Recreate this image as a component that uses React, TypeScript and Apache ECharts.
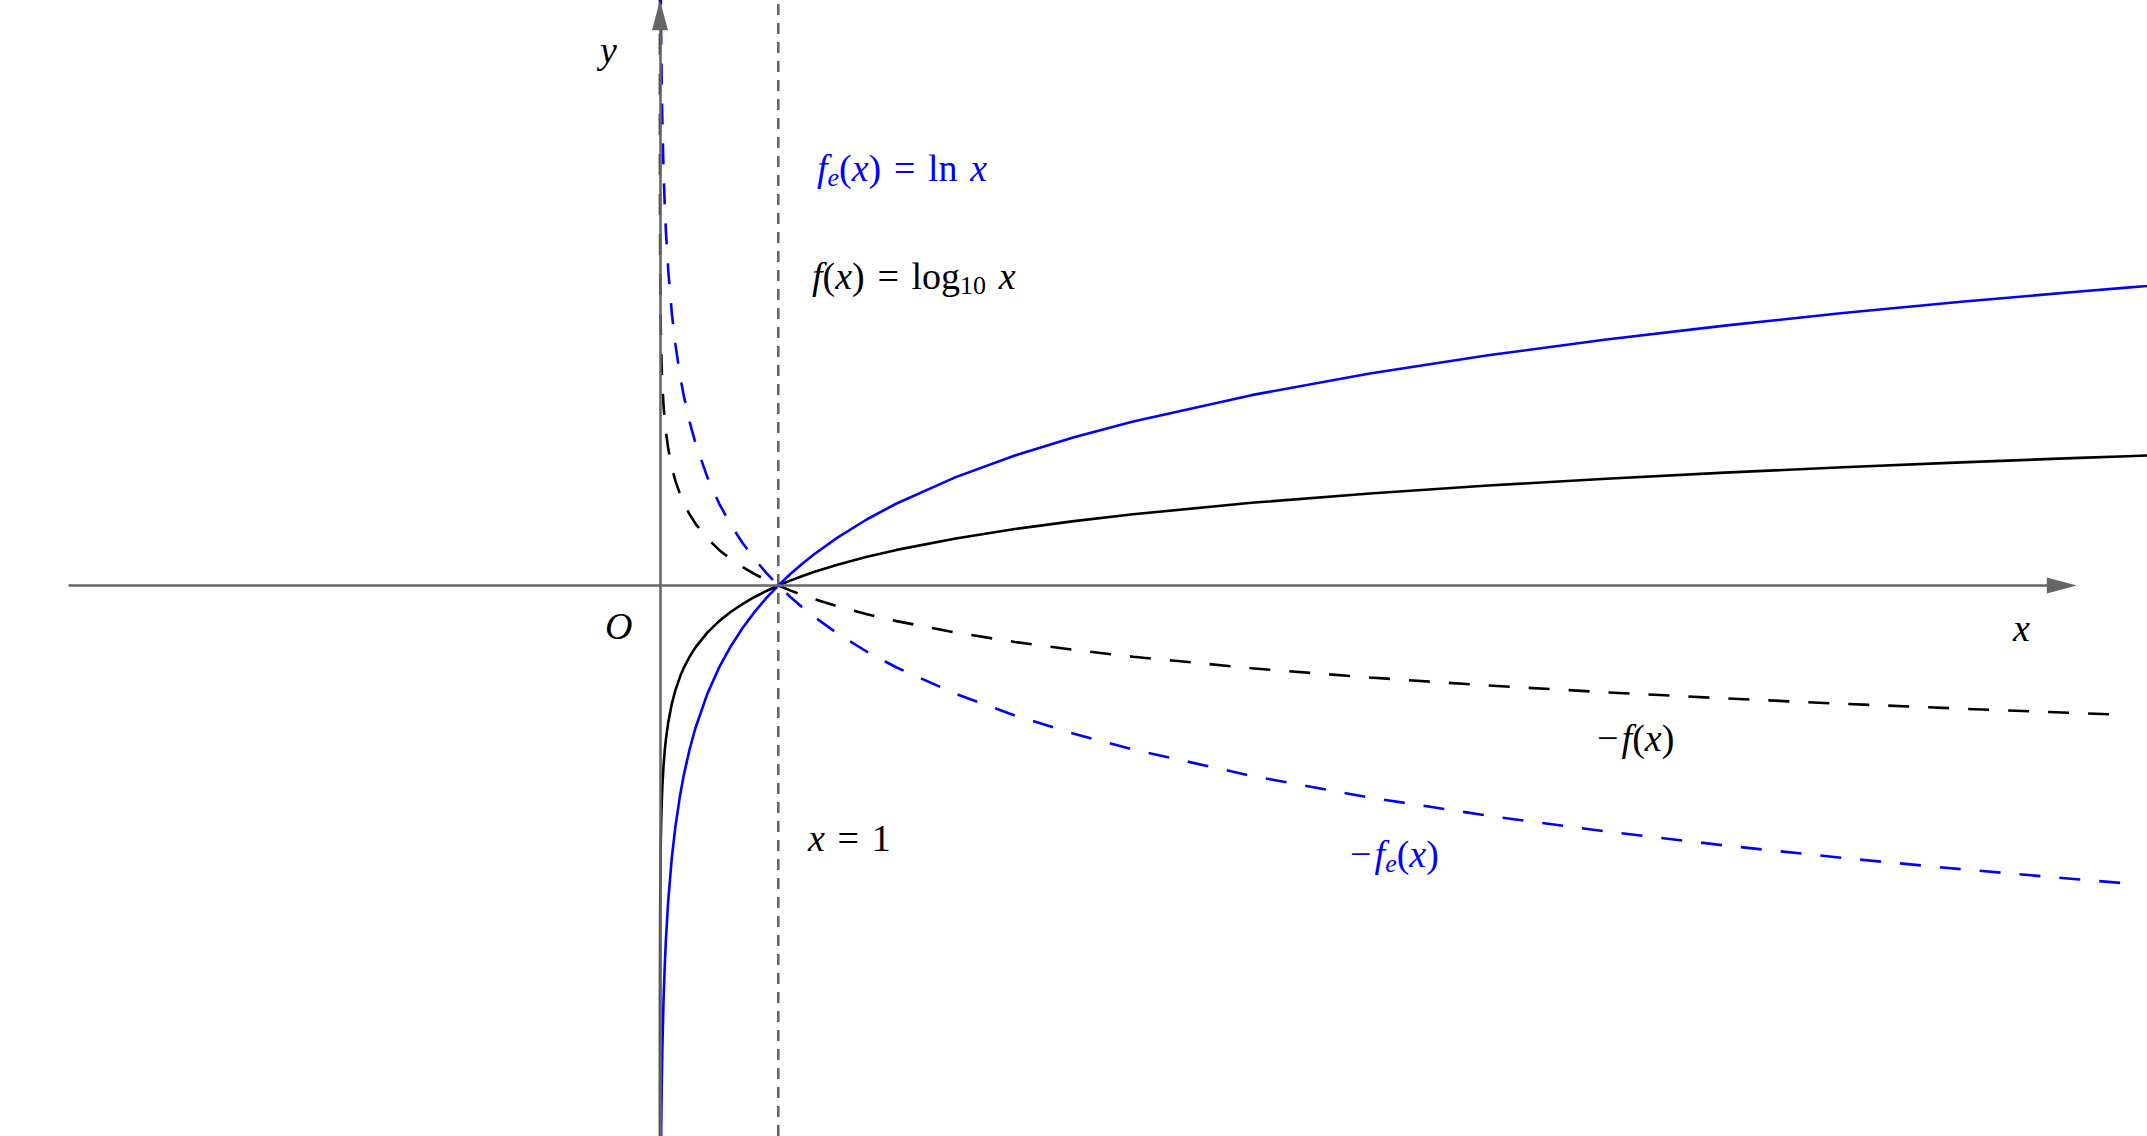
import React, { useEffect, useRef } from "react";
import * as echarts from "echarts";

// Sample abscissae (x > 0)
const xs = [0.00001, 0.0001, 0.0005, 0.001, 0.002, 0.003, 0.005, 0.007, 0.01, 0.015, 0.02, 0.03, 0.04, 0.05, 0.07, 0.1, 0.13, 0.17, 0.2, 0.25, 0.3, 0.4, 0.5, 0.6, 0.7, 0.8, 0.9, 1, 1.1, 1.2, 1.3, 1.5, 1.75, 2, 2.5, 3, 3.5, 4, 5, 6, 7, 8, 9, 10, 11, 12, 12.4, 13];

// f_e(x) = ln x
const lnY = [-11.513, -9.21, -7.601, -6.908, -6.215, -5.809, -5.298, -4.962, -4.605, -4.2, -3.912, -3.507, -3.219, -2.996, -2.659, -2.303, -2.04, -1.772, -1.609, -1.386, -1.204, -0.916, -0.693, -0.511, -0.357, -0.223, -0.105, 0, 0.095, 0.182, 0.262, 0.405, 0.56, 0.693, 0.916, 1.099, 1.253, 1.386, 1.609, 1.792, 1.946, 2.079, 2.197, 2.303, 2.398, 2.485, 2.518, 2.565];

// f(x) = log10 x
const log10Y = [-5, -4, -3.301, -3, -2.699, -2.523, -2.301, -2.155, -2, -1.824, -1.699, -1.523, -1.398, -1.301, -1.155, -1, -0.886, -0.77, -0.699, -0.602, -0.523, -0.398, -0.301, -0.222, -0.155, -0.097, -0.046, 0, 0.041, 0.079, 0.114, 0.176, 0.243, 0.301, 0.398, 0.477, 0.544, 0.602, 0.699, 0.778, 0.845, 0.903, 0.954, 1, 1.041, 1.079, 1.093, 1.114];

// -f_e(x) (drawn up to x = 12.4)
const negLnY = [11.513, 9.21, 7.601, 6.908, 6.215, 5.809, 5.298, 4.962, 4.605, 4.2, 3.912, 3.507, 3.219, 2.996, 2.659, 2.303, 2.04, 1.772, 1.609, 1.386, 1.204, 0.916, 0.693, 0.511, 0.357, 0.223, 0.105, 0, -0.095, -0.182, -0.262, -0.405, -0.56, -0.693, -0.916, -1.099, -1.253, -1.386, -1.609, -1.792, -1.946, -2.079, -2.197, -2.303, -2.398, -2.485, -2.518];

// -f(x) (drawn up to x = 12.4)
const negLog10Y = [5, 4, 3.301, 3, 2.699, 2.523, 2.301, 2.155, 2, 1.824, 1.699, 1.523, 1.398, 1.301, 1.155, 1, 0.886, 0.77, 0.699, 0.602, 0.523, 0.398, 0.301, 0.222, 0.155, 0.097, 0.046, 0, -0.041, -0.079, -0.114, -0.176, -0.243, -0.301, -0.398, -0.477, -0.544, -0.602, -0.699, -0.778, -0.845, -0.903, -0.954, -1, -1.041, -1.079, -1.093];

// Viewport of the plane
const X_MIN = -5.579;
const X_MAX = 12.57;
const Y_MIN = -4.653;
const Y_MAX = 4.949;

// Axis extents
const xAxisFrom = -5;
const xAxisTo = 11.85;
const yAxisTo = 4.82;
const asymptoteX = 1;

const W = 2147;
const H = 1136;
const FONT = "'Liberation Serif', 'DejaVu Serif', serif";
const BLUE = "#0000ff";
const BLACK = "#000000";
const GRAY = "#666666";
const SP = "\u2004"; // three-per-em space, math-like spacing around "="
const HS = "\u200A"; // hair space

function pairs(vals: number[]) {
  return vals.map((v, i) => [xs[i], v]);
}

function rich(color: string) {
  return {
    i: { fill: color, fontFamily: FONT, fontStyle: "italic", fontSize: 38, lineHeight: 44, verticalAlign: "middle" },
    n: { fill: color, fontFamily: FONT, fontSize: 38, lineHeight: 44, verticalAlign: "middle" },
    s: { fill: color, fontFamily: FONT, fontStyle: "italic", fontSize: 26, lineHeight: 22, verticalAlign: "bottom" },
    sn: { fill: color, fontFamily: FONT, fontSize: 26, lineHeight: 22, verticalAlign: "bottom" },
  };
}

function label(x: number, y: number, text: string, color: string) {
  return {
    type: "text",
    x,
    y,
    silent: true,
    style: {
      text,
      rich: rich(color),
      fill: color,
      fontFamily: FONT,
      fontSize: 38,
      align: "left",
      verticalAlign: "middle",
    },
  };
}

export default function App() {
  const ref = useRef<HTMLDivElement>(null);

  useEffect(() => {
    if (!ref.current) return;
    const chart = echarts.init(ref.current, undefined, { renderer: "svg" });
    const curve = (name: string, vals: number[], color: string, dashed: boolean) => ({
      name,
      type: "line",
      data: pairs(vals),
      showSymbol: false,
      symbol: "none",
      smooth: false,
      clip: true,
      lineStyle: {
        color,
        width: 2.6,
        type: dashed ? [21, 19] : "solid",
      },
      z: 3,
    });

    chart.setOption({
      animation: false,
      backgroundColor: "#ffffff",
      grid: { left: 0, right: 0, top: 0, bottom: 0, containLabel: false },
      xAxis: { type: "value", min: X_MIN, max: X_MAX, show: false },
      yAxis: { type: "value", min: Y_MIN, max: Y_MAX, show: false },
      series: [
        {
          name: "x = 1",
          type: "line",
          data: [
            [asymptoteX, Y_MIN],
            [asymptoteX, Y_MAX],
          ],
          showSymbol: false,
          symbol: "none",
          lineStyle: { color: GRAY, width: 2.6, type: [11, 8] },
          z: 2,
          markLine: {
            silent: true,
            symbol: ["none", "triangle"],
            symbolSize: [16, 30],
            label: { show: false },
            lineStyle: { color: GRAY, width: 2.6, type: "solid" },
            itemStyle: { color: GRAY },
            data: [
              [{ coord: [xAxisFrom, 0] }, { coord: [xAxisTo, 0] }],
              [{ coord: [0, Y_MIN] }, { coord: [0, yAxisTo] }],
            ],
          },
        },
        curve("-f(x)", negLog10Y, BLACK, true),
        curve("-fe(x)", negLnY, BLUE, true),
        curve("f(x)", log10Y, BLACK, false),
        curve("fe(x)", lnY, BLUE, false),
      ],
      graphic: [
        label(817, 168, `{i|f}{s|e}{n|(}{i|x}{n|)${SP}=${SP}ln${SP}}{i|x}`, BLUE),
        label(812, 276, `{i|f}{n|(}{i|x}{n|)${SP}=${SP}log}{sn|10}{n|${SP}}{i|x}`, BLACK),
        label(808, 838, `{i|x}{n|${SP}=${SP}1}`, BLACK),
        label(1597, 738, `{n|−${HS}}{i|f}{n|(}{i|x}{n|)}`, BLACK),
        label(1350, 854, `{n|−${HS}}{i|f}{s|e}{n|(}{i|x}{n|)}`, BLUE),
        label(605, 626, "{i|O}", BLACK),
        label(600, 50, "{i|y}", BLACK),
        label(2013, 628, "{i|x}", BLACK),
      ],
    });
    return () => chart.dispose();
  }, []);

  return (
    <div
      ref={ref}
      style={{ position: "fixed", left: 0, top: 0, width: W, height: H }}
    />
  );
}
